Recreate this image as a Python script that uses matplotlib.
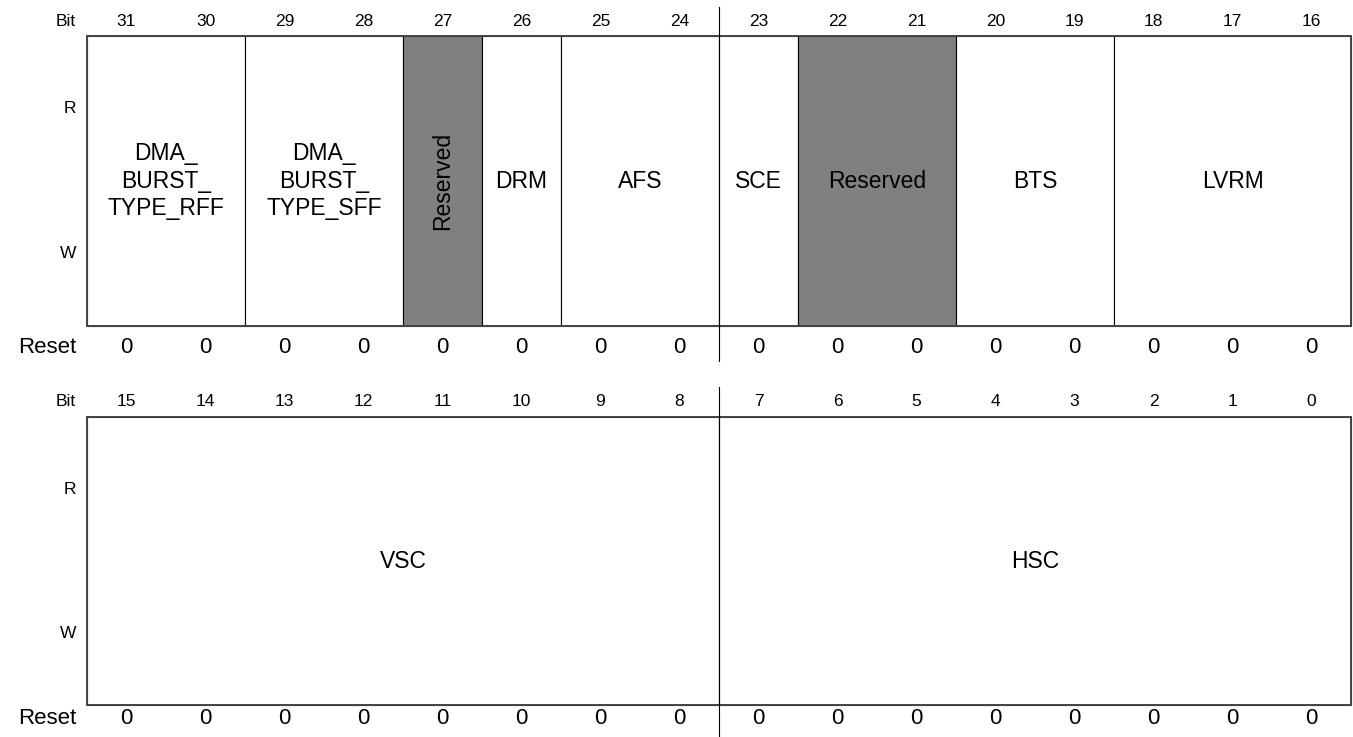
import matplotlib.pyplot as plt
from matplotlib.patches import Rectangle

plt.rcParams['font.family'] = ['Liberation Sans', 'DejaVu Sans']

# register contents
top_bits = list(range(31, 15, -1))
bottom_bits = list(range(15, -1, -1))

top_names = ["DMA_\nBURST_\nTYPE_RFF", "DMA_\nBURST_\nTYPE_SFF", "Reserved", "DRM",
             "AFS", "SCE", "Reserved", "BTS", "LVRM"]
top_msb = [31, 29, 27, 26, 25, 23, 22, 20, 18]
top_lsb = [30, 28, 27, 26, 24, 23, 21, 19, 16]
top_reserved = [False, False, True, False, False, False, True, False, False]

bottom_names = ["VSC", "HSC"]
bottom_msb = [15, 7]
bottom_lsb = [8, 0]
bottom_reserved = [False, False]

top_reset = [0] * 16
bottom_reset = [0] * 16

# layout (pixels)
X0 = 87
CW = 79
GRAY = '#808080'

fig = plt.figure(figsize=(13.53, 7.37), dpi=100)
ax = fig.add_axes([0, 0, 1, 1])
ax.set_xlim(0, 1353)
ax.set_ylim(737, 0)
ax.axis('off')


def draw_register(bits, names, msb, lsb, reserved, reset, y_bit, y_top, y_bot, y_reset, y_end):
    hi = bits[0]
    # bit numbers and reset values
    ax.text(76, y_bit, "Bit", ha='right', va='center', fontsize=12.5)
    ax.text(76, y_reset, "Reset", ha='right', va='center', fontsize=16)
    for i, b in enumerate(bits):
        xc = X0 + (i + 0.5) * CW
        ax.text(xc, y_bit, str(b), ha='center', va='center', fontsize=12.5)
        ax.text(xc, y_reset, str(reset[i]), ha='center', va='center', fontsize=16)
    # R / W labels
    ax.text(76, y_top + (y_bot - y_top) * 0.25, "R", ha='right', va='center', fontsize=12.5)
    ax.text(76, y_top + (y_bot - y_top) * 0.75, "W", ha='right', va='center', fontsize=12.5)
    # fields
    for name, m, l, res in zip(names, msb, lsb, reserved):
        x1 = X0 + (hi - m) * CW
        w = (m - l + 1) * CW
        ax.add_patch(Rectangle((x1, y_top), w, y_bot - y_top,
                               facecolor=GRAY if res else 'white',
                               edgecolor='black', lw=0.8, zorder=1))
        rot = 90 if (res and m == l) else 0
        ax.text(x1 + w / 2, (y_top + y_bot) / 2, name, ha='center', va='center',
                fontsize=16.5, rotation=rot, linespacing=1.25, zorder=3)
    # outer border
    ax.add_patch(Rectangle((X0, y_top), 16 * CW, y_bot - y_top, fill=False,
                           edgecolor='#444444', lw=1.4, zorder=2))
    # half-word divider
    xm = X0 + 8 * CW
    ax.plot([xm, xm], [y_bit - 14, y_top], color='black', lw=0.8)
    ax.plot([xm, xm], [y_top, y_bot], color='black', lw=0.8)
    ax.plot([xm, xm], [y_bot, y_end], color='black', lw=0.8)


draw_register(top_bits, top_names, top_msb, top_lsb, top_reserved, top_reset,
              21, 36, 326, 347, 361)
draw_register(bottom_bits, bottom_names, bottom_msb, bottom_lsb, bottom_reserved, bottom_reset,
              401, 417, 705, 718, 737)

fig.savefig("out.png", dpi=100)
